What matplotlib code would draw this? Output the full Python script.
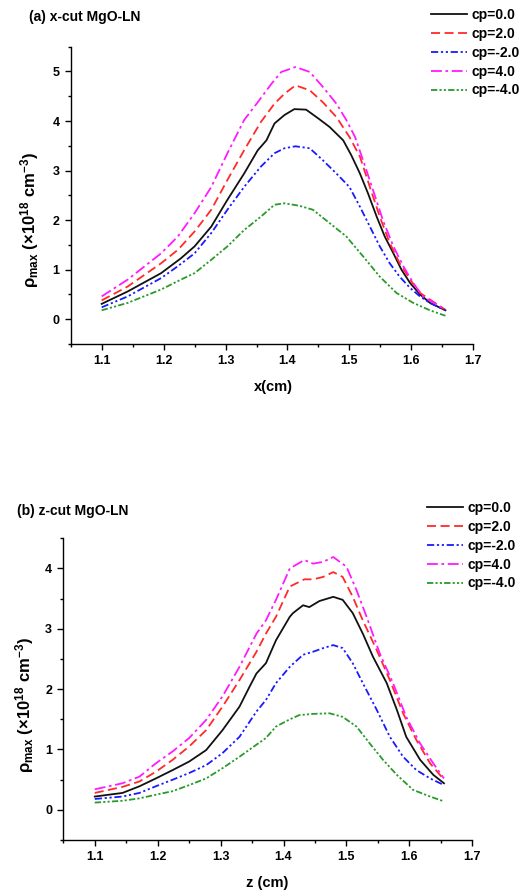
import matplotlib
matplotlib.use("Agg")
import matplotlib.pyplot as plt
from matplotlib.ticker import MultipleLocator, FormatStrFormatter

plt.rcParams['font.family'] = ['Liberation Sans', 'DejaVu Sans']
plt.rcParams['font.weight'] = 'bold'
plt.rcParams['mathtext.fontset'] = 'custom'
plt.rcParams['mathtext.rm'] = 'Liberation Sans:bold'
plt.rcParams['mathtext.bf'] = 'Liberation Sans:bold'
plt.rcParams['mathtext.it'] = 'Liberation Sans:bold'
plt.rcParams['mathtext.sf'] = 'Liberation Sans:bold'

labels = ['cp=0.0', 'cp=2.0', 'cp=-2.0', 'cp=4.0', 'cp=-4.0']

# ---- (a) x-cut ----
a_x_cp0 = [1.1, 1.142, 1.196, 1.228, 1.25, 1.277, 1.303, 1.33, 1.352, 1.366, 1.379, 1.395, 1.411, 1.43, 1.45, 1.468, 1.49, 1.503, 1.517, 1.53, 1.544, 1.557, 1.571, 1.584, 1.598, 1.614, 1.63, 1.655]
a_y_cp0 = [0.31, 0.56, 0.93, 1.23, 1.47, 1.87, 2.41, 2.94, 3.41, 3.61, 3.95, 4.12, 4.24, 4.23, 4.05, 3.88, 3.61, 3.31, 2.94, 2.54, 2.07, 1.67, 1.33, 1.00, 0.73, 0.50, 0.33, 0.18]

a_x_cp2 = [1.1, 1.142, 1.196, 1.223, 1.25, 1.277, 1.303, 1.33, 1.357, 1.379, 1.395, 1.413, 1.436, 1.457, 1.479, 1.5, 1.517, 1.533, 1.549, 1.565, 1.581, 1.598, 1.614, 1.655]
a_y_cp2 = [0.38, 0.66, 1.13, 1.40, 1.77, 2.21, 2.81, 3.41, 3.98, 4.35, 4.55, 4.72, 4.62, 4.38, 4.08, 3.68, 3.28, 2.67, 2.07, 1.54, 1.13, 0.80, 0.53, 0.19]

a_x_cpm2 = [1.1, 1.142, 1.196, 1.223, 1.25, 1.277, 1.303, 1.33, 1.357, 1.379, 1.395, 1.413, 1.436, 1.457, 1.479, 1.5, 1.517, 1.533, 1.549, 1.565, 1.581, 1.598, 1.614, 1.63, 1.655]
a_y_cpm2 = [0.24, 0.46, 0.83, 1.07, 1.33, 1.74, 2.21, 2.67, 3.08, 3.35, 3.45, 3.49, 3.45, 3.21, 2.94, 2.67, 2.27, 1.87, 1.47, 1.13, 0.86, 0.63, 0.46, 0.33, 0.18]

a_x_cp4 = [1.1, 1.142, 1.196, 1.223, 1.25, 1.277, 1.303, 1.33, 1.352, 1.374, 1.39, 1.413, 1.436, 1.457, 1.479, 1.495, 1.509, 1.522, 1.538, 1.554, 1.571, 1.587, 1.603, 1.619, 1.655]
a_y_cp4 = [0.46, 0.80, 1.33, 1.67, 2.14, 2.67, 3.35, 4.02, 4.38, 4.75, 4.99, 5.09, 4.99, 4.69, 4.35, 4.02, 3.68, 3.21, 2.61, 2.00, 1.47, 1.07, 0.73, 0.46, 0.19]

a_x_cpm4 = [1.1, 1.142, 1.196, 1.228, 1.25, 1.277, 1.303, 1.33, 1.357, 1.379, 1.395, 1.419, 1.441, 1.468, 1.495, 1.522, 1.549, 1.576, 1.603, 1.63, 1.655]
a_y_cpm4 = [0.18, 0.33, 0.60, 0.80, 0.93, 1.20, 1.47, 1.80, 2.07, 2.31, 2.34, 2.29, 2.21, 1.94, 1.67, 1.27, 0.86, 0.53, 0.33, 0.18, 0.07]

# ---- (b) z-cut ----
b_x_cp0 = [1.1, 1.144, 1.171, 1.197, 1.224, 1.25, 1.277, 1.303, 1.33, 1.346, 1.357, 1.372, 1.388, 1.41, 1.415, 1.431, 1.441, 1.457, 1.479, 1.494, 1.51, 1.526, 1.542, 1.564, 1.58, 1.595, 1.617, 1.638, 1.655]
b_y_cp0 = [0.22, 0.28, 0.39, 0.52, 0.66, 0.80, 0.99, 1.32, 1.71, 2.04, 2.26, 2.43, 2.81, 3.20, 3.26, 3.39, 3.36, 3.46, 3.53, 3.48, 3.26, 2.92, 2.54, 2.10, 1.66, 1.21, 0.83, 0.58, 0.44]

b_x_cp2 = [1.1, 1.144, 1.171, 1.197, 1.224, 1.25, 1.277, 1.303, 1.33, 1.357, 1.372, 1.388, 1.41, 1.433, 1.447, 1.463, 1.479, 1.494, 1.51, 1.526, 1.548, 1.569, 1.59, 1.611, 1.633, 1.655]
b_y_cp2 = [0.28, 0.38, 0.47, 0.63, 0.83, 1.05, 1.32, 1.71, 2.15, 2.62, 2.92, 3.20, 3.70, 3.82, 3.82, 3.86, 3.94, 3.86, 3.53, 3.14, 2.65, 2.15, 1.60, 1.16, 0.77, 0.50]

b_x_cpm2 = [1.1, 1.144, 1.171, 1.197, 1.224, 1.25, 1.277, 1.303, 1.33, 1.357, 1.372, 1.388, 1.41, 1.431, 1.447, 1.463, 1.479, 1.494, 1.51, 1.526, 1.548, 1.569, 1.59, 1.611, 1.633, 1.655]
b_y_cpm2 = [0.18, 0.22, 0.28, 0.39, 0.50, 0.61, 0.74, 0.94, 1.21, 1.63, 1.82, 2.10, 2.37, 2.57, 2.62, 2.68, 2.73, 2.68, 2.43, 2.10, 1.66, 1.21, 0.88, 0.66, 0.52, 0.41]

b_x_cp4 = [1.1, 1.144, 1.171, 1.197, 1.224, 1.25, 1.277, 1.303, 1.33, 1.357, 1.372, 1.388, 1.41, 1.433, 1.447, 1.463, 1.479, 1.5, 1.516, 1.532, 1.553, 1.574, 1.595, 1.617, 1.638, 1.655]
b_y_cp4 = [0.34, 0.44, 0.55, 0.77, 0.97, 1.19, 1.49, 1.88, 2.37, 2.92, 3.14, 3.48, 4.00, 4.14, 4.08, 4.11, 4.19, 4.03, 3.64, 3.20, 2.59, 2.10, 1.54, 1.10, 0.77, 0.52]

b_x_cpm4 = [1.1, 1.144, 1.171, 1.197, 1.224, 1.25, 1.277, 1.303, 1.33, 1.357, 1.372, 1.388, 1.41, 1.425, 1.447, 1.473, 1.494, 1.516, 1.537, 1.558, 1.58, 1.606, 1.633, 1.655]
b_y_cpm4 = [0.12, 0.15, 0.19, 0.25, 0.31, 0.41, 0.52, 0.69, 0.88, 1.08, 1.19, 1.38, 1.50, 1.57, 1.59, 1.60, 1.54, 1.38, 1.10, 0.83, 0.58, 0.33, 0.22, 0.14]

colors = ['#111111', '#ff2a2a', '#1a1aff', '#ff1aff', '#2a9a2a']
dashes = [None, (5, 2.5), (4, 1.5, 1.2, 1.5, 1.2, 1.5), (6, 2, 1.5, 2), (3.5, 1.2, 1.2, 1.2, 1.2, 1.2)]

W, H = 525, 893
fig = plt.figure(figsize=(W / 100, H / 100), dpi=100)

def fx(px):
    return px / W

def fy(py):
    return 1 - py / H

panels = [
    dict(rect=(70.7, 46.7, 473.3, 344.0), ylim=(-0.5, 5.5),
         xs=[a_x_cp0, a_x_cp2, a_x_cpm2, a_x_cp4, a_x_cpm4],
         ys=[a_y_cp0, a_y_cp2, a_y_cpm2, a_y_cp4, a_y_cpm4],
         title='(a) x-cut MgO-LN', title_pos=(29, 17),
         xlabel='x(cm)', xlabel_pos=(273, 387),
         ylabel_pos=(30, 220), leg=(431, 8)),
    dict(rect=(63.3, 538.3, 472.3, 840.0), ylim=(-0.5, 4.5),
         xs=[b_x_cp0, b_x_cp2, b_x_cpm2, b_x_cp4, b_x_cpm4],
         ys=[b_y_cp0, b_y_cp2, b_y_cpm2, b_y_cp4, b_y_cpm4],
         title='(b) z-cut MgO-LN', title_pos=(17, 511),
         xlabel='z (cm)', xlabel_pos=(267, 883),
         ylabel_pos=(25, 705), leg=(427, 501)),
]

for p in panels:
    l, t, r, b = p['rect']
    ax = fig.add_axes([fx(l), fy(b), (r - l) / W, (b - t) / H])
    handles = []
    for xs, ys, c, d, lab in zip(p['xs'], p['ys'], colors, dashes, labels):
        if d is None:
            h, = ax.plot(xs, ys, color=c, lw=1.3, label=lab)
        else:
            h, = ax.plot(xs, ys, color=c, lw=1.3, dashes=d, label=lab)
        handles.append(h)
    ax.set_xlim(1.05, 1.7)
    ax.set_ylim(*p['ylim'])
    ax.xaxis.set_minor_locator(MultipleLocator(0.05))
    ax.yaxis.set_minor_locator(MultipleLocator(0.5))
    ax.set_xticks([1.1, 1.2, 1.3, 1.4, 1.5, 1.6, 1.7])
    ax.set_yticks(list(range(0, int(p['ylim'][1]) + 1)))
    ax.xaxis.set_major_formatter(FormatStrFormatter('%.1f'))
    ax.yaxis.set_major_formatter(FormatStrFormatter('%d'))
    for s in ['top', 'right']:
        ax.spines[s].set_visible(False)
    for s in ['left', 'bottom']:
        ax.spines[s].set_linewidth(1.0)
    ax.tick_params(which='major', direction='out', length=4, width=1.0, labelsize=9, pad=4)
    ax.tick_params(which='minor', direction='out', length=2.5, width=1.0)
    for lab in ax.get_xticklabels() + ax.get_yticklabels():
        lab.set_fontweight('bold')

    fig.text(fx(p['title_pos'][0]), fy(p['title_pos'][1]), p['title'],
             fontsize=10, fontweight='bold', ha='left', va='center')
    fig.text(fx(p['xlabel_pos'][0]), fy(p['xlabel_pos'][1]), p['xlabel'],
             fontsize=10.5, fontweight='bold', ha='center', va='center')
    fig.text(fx(p['ylabel_pos'][0]), fy(p['ylabel_pos'][1]),
             r'$\rho_{max}\ (\times10^{18}\ cm^{-3})$',
             fontsize=12, rotation=90, ha='center', va='center')
    fig.legend(handles=handles, labels=labels, loc='upper left',
               bbox_to_anchor=(fx(p['leg'][0]), fy(p['leg'][1])),
               frameon=False, handlelength=2.6, handletextpad=0.3,
               labelspacing=0.35, borderpad=0, borderaxespad=0,
               prop={'weight': 'bold', 'size': 10})

fig.savefig('out.png', dpi=100)
